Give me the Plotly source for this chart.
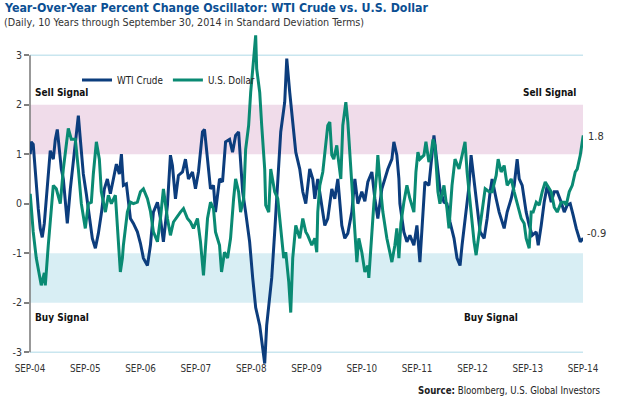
import plotly.graph_objects as go
import pandas as pd

# ---------------- data (decimal years, standard-deviation values) ----------------
wti_time = [
    2004.750, 2004.768, 2004.804, 2004.841, 2004.895, 2004.931, 2004.967, 2005.004, 2005.040, 2005.076,
    2005.112, 2005.167, 2005.203, 2005.239, 2005.275, 2005.312, 2005.348, 2005.384, 2005.420, 2005.475,
    2005.529, 2005.583, 2005.620, 2005.656, 2005.710, 2005.764, 2005.819, 2005.873, 2005.928, 2005.982,
    2006.036, 2006.091, 2006.145, 2006.199, 2006.254, 2006.308, 2006.362, 2006.399, 2006.435, 2006.489,
    2006.562, 2006.616, 2006.688, 2006.743, 2006.797, 2006.870, 2006.924, 2006.978, 2007.051, 2007.105,
    2007.159, 2007.232, 2007.286, 2007.322, 2007.377, 2007.431, 2007.504, 2007.558, 2007.612, 2007.685,
    2007.739, 2007.793, 2007.866, 2007.902, 2007.957, 2008.011, 2008.065, 2008.101, 2008.174, 2008.228,
    2008.283, 2008.355, 2008.409, 2008.464, 2008.518, 2008.554, 2008.591, 2008.645, 2008.717, 2008.772,
    2008.826, 2008.899, 2008.935, 2008.989, 2009.025, 2009.080, 2009.116, 2009.170, 2009.225, 2009.279,
    2009.351, 2009.388, 2009.442, 2009.496, 2009.551, 2009.623, 2009.678, 2009.732, 2009.768, 2009.804,
    2009.859, 2009.895, 2009.949, 2010.022, 2010.076, 2010.130, 2010.203, 2010.257, 2010.312, 2010.384,
    2010.438, 2010.493, 2010.565, 2010.620, 2010.674, 2010.746, 2010.801, 2010.855, 2010.928, 2010.982,
    2011.036, 2011.109, 2011.163, 2011.217, 2011.290, 2011.326, 2011.380, 2011.417, 2011.435, 2011.507,
    2011.562, 2011.616, 2011.688, 2011.743, 2011.797, 2011.833, 2011.888, 2011.960, 2012.014, 2012.051,
    2012.105, 2012.159, 2012.232, 2012.286, 2012.341, 2012.413, 2012.467, 2012.522, 2012.558, 2012.612,
    2012.685, 2012.721, 2012.775, 2012.830, 2012.884, 2012.957, 2013.011, 2013.065, 2013.101, 2013.174,
    2013.228, 2013.319, 2013.373, 2013.446, 2013.500, 2013.554, 2013.591, 2013.645, 2013.717, 2013.772,
    2013.826, 2013.899, 2013.935, 2013.989, 2014.043, 2014.098, 2014.170, 2014.225, 2014.279, 2014.351,
    2014.406, 2014.460, 2014.514, 2014.569, 2014.623, 2014.696, 2014.750,
]
wti_values = [
    1.0, 1.25, 1.2, 0.6, -0.1, -0.5, -0.68, -0.4, 0.1, 0.5,
    1.07, 0.9, 1.3, 1.5, 1.1, 0.7, 0.5, 0.1, -0.4, 0.3,
    0.9, 1.4, 1.78, 1.3, 0.6, 0.2, -0.3, -0.7, -0.9, -0.6,
    -0.2, 0.3, 0.5, 0.2, 0.5, 0.8, 0.6, 1.0, 0.37, 0.4,
    -0.3, -0.4, -0.57, -0.8, -1.1, -1.25, -0.84, -0.17, 0.03, -0.3,
    -0.77, -0.03, 0.98, 0.77, 0.1, 0.57, 0.64, 0.9, 0.5, 0.64,
    0.3, 0.64, 1.45, 1.5, 0.9, 0.3, 0.37, -0.17, 0.5, 0.44,
    1.25, 1.3, 1.04, 1.38, 1.45, 0.9, 0.24, -0.17, -0.77, -1.5,
    -2.1, -2.46, -2.8, -3.23, -2.46, -1.9, -1.5, -0.57, 0.57, 1.45,
    2.05, 2.93, 2.25, 1.58, 1.04, 0.7, 0.24, 0.0, 0.37, 0.7,
    0.5, 0.1, 0.5, -0.03, -0.44, -0.3, 0.3, 0.1, 0.5, -0.44,
    -0.7, -0.6, -0.17, 0.5, 0.0, 0.24, 0.05, 0.44, 0.64, 0.1,
    -0.3, 0.3, 0.5, 0.7, 0.9, 1.25, 0.98, 0.5, 0.0, -0.57,
    -0.77, -0.64, -0.84, -0.44, -1.18, -0.57, 0.44, 0.37, 0.98, 1.38,
    0.84, 0.3, 0.03, 0.0, -0.37, -0.7, -1.1, -1.25, -0.84, -0.3,
    0.37, 0.98, 0.5, 0.0, -0.57, -0.7, -0.3, 0.24, 0.5, 0.1,
    -0.17, -0.5, -0.17, 0.1, 0.37, 0.9, 0.5, 0.37, -0.17, -0.44,
    -0.64, -0.57, -0.84, -0.44, 0.03, 0.37, 0.03, 0.24, 0.24, 0.03,
    -0.17, -0.03, 0.0, -0.24, -0.5, -0.77, -0.7,
]

usd_time = [
    2004.750, 2004.804, 2004.859, 2004.931, 2004.949, 2005.004, 2005.022, 2005.076, 2005.130, 2005.167,
    2005.221, 2005.293, 2005.348, 2005.402, 2005.438, 2005.493, 2005.565, 2005.620, 2005.674, 2005.746,
    2005.801, 2005.855, 2005.891, 2005.946, 2006.000, 2006.036, 2006.109, 2006.163, 2006.217, 2006.290,
    2006.344, 2006.380, 2006.417, 2006.435, 2006.507, 2006.562, 2006.616, 2006.688, 2006.743, 2006.797,
    2006.870, 2006.924, 2006.978, 2007.051, 2007.105, 2007.159, 2007.232, 2007.286, 2007.341, 2007.413,
    2007.467, 2007.522, 2007.594, 2007.649, 2007.703, 2007.775, 2007.830, 2007.884, 2007.920, 2007.957,
    2008.011, 2008.065, 2008.101, 2008.174, 2008.210, 2008.264, 2008.319, 2008.373, 2008.428, 2008.464,
    2008.518, 2008.554, 2008.609, 2008.645, 2008.699, 2008.736, 2008.790, 2008.826, 2008.844, 2008.899,
    2008.935, 2008.989, 2009.007, 2009.062, 2009.098, 2009.170, 2009.225, 2009.279, 2009.333, 2009.370,
    2009.424, 2009.460, 2009.496, 2009.551, 2009.623, 2009.678, 2009.732, 2009.768, 2009.841, 2009.895,
    2009.931, 2009.949, 2009.986, 2010.040, 2010.094, 2010.130, 2010.167, 2010.203, 2010.239, 2010.293,
    2010.312, 2010.366, 2010.402, 2010.457, 2010.493, 2010.529, 2010.565, 2010.620, 2010.656, 2010.692,
    2010.746, 2010.801, 2010.855, 2010.873, 2010.928, 2010.964, 2011.018, 2011.036, 2011.091, 2011.127,
    2011.199, 2011.254, 2011.290, 2011.344, 2011.380, 2011.417, 2011.453, 2011.507, 2011.562, 2011.616,
    2011.688, 2011.725, 2011.761, 2011.797, 2011.870, 2011.906, 2011.960, 2011.996, 2012.033, 2012.069,
    2012.123, 2012.159, 2012.232, 2012.286, 2012.322, 2012.377, 2012.431, 2012.504, 2012.558, 2012.612,
    2012.649, 2012.703, 2012.739, 2012.775, 2012.812, 2012.866, 2012.920, 2012.975, 2013.047, 2013.101,
    2013.174, 2013.210, 2013.264, 2013.319, 2013.373, 2013.446, 2013.500, 2013.554, 2013.627, 2013.681,
    2013.717, 2013.772, 2013.808, 2013.844, 2013.899, 2013.953, 2014.007, 2014.062, 2014.098, 2014.170,
    2014.225, 2014.279, 2014.351, 2014.406, 2014.442, 2014.496, 2014.551, 2014.605, 2014.641, 2014.696,
    2014.732, 2014.750,
]
usd_values = [
    0.2, -0.57, -1.1, -1.5, -1.65, -1.4, -1.65, -0.84, 0.0, 0.37,
    0.3, 0.0, 0.7, 1.25, 1.52, 1.3, 1.3, 0.7, 0.0, -0.5,
    0.0, 0.03, 0.6, 1.25, 0.9, 0.24, -0.17, 0.17, 0.0, 0.17,
    -0.84, -1.38, -1.1, -0.84, -0.17, 0.03, 0.0, 0.03, 0.24, 0.3,
    0.1, -0.15, -0.57, -0.77, -0.3, 0.3, -0.3, -0.64, -0.37, -0.24,
    -0.17, -0.1, -0.3, -0.37, -0.5, -0.3, -0.77, -1.45, -0.84, -0.3,
    0.03, -0.1, -0.57, -0.84, -1.38, -0.98, -1.1, -0.7, 0.1, 0.5,
    0.24, -0.17, 0.1, 1.1, 1.58, 2.25, 2.93, 3.4, 2.73, 2.25,
    1.58, 0.7, -0.03, -0.17, 0.7, 0.24, 0.1, -0.44, -1.1, -0.98,
    -1.58, -2.2, -1.1, -0.44, -0.7, -0.3, -0.57, -0.64, -0.84, -0.7,
    -0.98, -0.17, 0.37, 0.64, 1.18, 1.58, 1.65, 0.98, 0.9, 1.18,
    0.98, 0.5, 1.58, 2.05, 1.65, 1.04, 0.5, -0.5, -1.18, -0.7,
    -0.98, -1.38, -1.25, -1.5, -0.57, 0.0, 0.64, 0.98, 0.24, -0.17,
    -0.7, -1.04, -1.18, -0.84, -0.5, -1.1, -0.4, 0.03, 0.37, 0.1,
    -0.17, 0.64, 1.04, 0.9, 0.98, 1.25, 0.84, 0.98, 1.3, 1.18,
    0.24, 0.0, 0.37, -0.1, -0.5, 0.37, 0.9, 0.7, 0.98, 1.25,
    0.64, 0.0, -0.5, -0.77, -1.04, -0.57, -0.17, 0.3, 0.24, 0.24,
    0.57, 0.9, 0.64, 0.77, 0.37, 0.5, 0.24, 0.0, -0.3, -0.4,
    -0.7, -0.9, -0.17, -0.17, 0.03, -0.03, 0.24, 0.44, 0.37, 0.24,
    -0.07, -0.17, 0.03, 0.03, -0.03, 0.24, 0.37, 0.64, 0.7, 0.98,
    1.25, 1.38,
]

tick_years = [2004, 2005, 2006, 2007, 2008, 2009, 2010, 2011, 2012, 2013, 2014]
tick_labels = ["SEP-04", "SEP-05", "SEP-06", "SEP-07", "SEP-08", "SEP-09",
               "SEP-10", "SEP-11", "SEP-12", "SEP-13", "SEP-14"]
y_ticks = [-3, -2, -1, 0, 1, 2, 3]
end_labels = {"U.S. Dollar": "1.8", "WTI Crude": "-0.9"}


def to_date(t):
    y = int(t)
    start = pd.Timestamp(year=y, month=1, day=1)
    days = (pd.Timestamp(year=y + 1, month=1, day=1) - start).days
    return start + pd.Timedelta(days=(t - y) * days)


wti_dates = [to_date(t) for t in wti_time]
usd_dates = [to_date(t) for t in usd_time]
tick_dates = [pd.Timestamp(year=y, month=9, day=30) for y in tick_years]
x_range = [tick_dates[0], tick_dates[-1]]
y_range = [-3.3, 3.55]

BLUE = "#0c3d7d"
TEAL = "#0a8a73"
FONT = "Liberation Sans Narrow, DejaVu Sans Condensed, Roboto, sans-serif"

fig = go.Figure()
fig.add_trace(go.Scatter(x=wti_dates, y=wti_values, mode="lines", name="WTI Crude",
                         line=dict(color=BLUE, width=3)))
fig.add_trace(go.Scatter(x=usd_dates, y=usd_values, mode="lines", name="U.S. Dollar",
                         line=dict(color=TEAL, width=3)))


def frac(v):
    return (v - y_range[0]) / (y_range[1] - y_range[0])


shapes = [
    dict(type="rect", xref="paper", yref="y", x0=0, x1=1, y0=1, y1=2,
         fillcolor="#f0dcea", line=dict(width=0), layer="below"),
    dict(type="rect", xref="paper", yref="y", x0=0, x1=1, y0=-2, y1=-1,
         fillcolor="#d8eef4", line=dict(width=0), layer="below"),
    dict(type="line", xref="paper", yref="y", x0=0, x1=1, y0=3, y1=3,
         line=dict(color="#c9e6ef", width=1.5), layer="below"),
    dict(type="line", xref="paper", yref="y", x0=0, x1=1, y0=-3, y1=-3,
         line=dict(color="#c9e6ef", width=1.5), layer="below"),
    dict(type="line", xref="paper", yref="y", x0=0, x1=0, y0=-3, y1=3,
         line=dict(color="#7f7f7f", width=1.6), layer="below"),
]

SIG = dict(size=10, color="#111")
annotations = [
    dict(text="<b>Sell Signal</b>", xref="paper", yref="y", x=0.006, y=2.24,
         xanchor="left", yanchor="middle", showarrow=False, font=SIG),
    dict(text="<b>Sell Signal</b>", xref="paper", yref="y", x=0.991, y=2.24,
         xanchor="right", yanchor="middle", showarrow=False, font=SIG),
    dict(text="<b>Buy Signal</b>", xref="paper", yref="y", x=0.006, y=-2.3,
         xanchor="left", yanchor="middle", showarrow=False, font=SIG),
    dict(text="<b>Buy Signal</b>", xref="paper", yref="y", x=0.834, y=-2.3,
         xanchor="center", yanchor="middle", showarrow=False, font=SIG),
    dict(text=end_labels["U.S. Dollar"], xref="paper", yref="y", x=1.006, y=usd_values[-1] - 0.03,
         xanchor="left", yanchor="middle", showarrow=False, font=dict(size=11, color="#333")),
    dict(text=end_labels["WTI Crude"], xref="paper", yref="y", x=1.004, y=wti_values[-1] + 0.1,
         xanchor="left", yanchor="middle", showarrow=False, font=dict(size=11, color="#333")),
    dict(text="<b>Year-Over-Year Percent Change Oscillator: WTI Crude vs. U.S. Dollar</b>",
         xref="paper", yref="paper", x=-0.05, y=1.0 + 20 / 339, xanchor="left", yanchor="middle",
         showarrow=False, font=dict(size=12.3, color="#0b4f93")),
    dict(text="(Daily, 10 Years through September 30, 2014 in Standard Deviation Terms)",
         xref="paper", yref="paper", x=-0.05, y=1.0 + 5 / 339, xanchor="left", yanchor="middle",
         showarrow=False, font=dict(size=10.7, color="#333")),
    dict(text="<b>Source:</b> Bloomberg, U.S. Global Investors",
         xref="paper", yref="paper", x=1.036, y=-23 / 339, xanchor="right", yanchor="middle",
         showarrow=False, font=dict(size=9.6, color="#222")),
]

fig.update_layout(
    width=621, height=399,
    margin=dict(l=30, r=38, t=28, b=32),
    paper_bgcolor="white", plot_bgcolor="white",
    font=dict(family=FONT, size=10, color="#333"),
    showlegend=True,
    legend=dict(orientation="h", x=0.085, y=1 - 52 / 339, xanchor="left", yanchor="middle",
                bgcolor="rgba(0,0,0,0)", font=dict(size=9.8, color="#222"),
                itemwidth=30, tracegroupgap=0),
    shapes=shapes,
    annotations=annotations,
    xaxis=dict(type="date", range=x_range, tickvals=tick_dates, ticktext=tick_labels,
               showgrid=False, zeroline=False, showline=False,
               anchor="free", position=frac(-3),
               ticks="outside", ticklen=7, tickcolor="rgba(0,0,0,0)",
               tickfont=dict(size=9.8, color="#333")),
    xaxis2=dict(type="date", range=x_range, overlaying="x", tickvals=tick_dates,
                showticklabels=False, showgrid=False, zeroline=False,
                showline=True, linecolor="#000", linewidth=1,
                anchor="free", position=frac(0),
                ticks="outside", ticklen=5, tickcolor="#000", tickwidth=1,
                layer="below traces"),
    yaxis=dict(range=y_range, tickvals=y_ticks, ticktext=[str(v) for v in y_ticks],
               showgrid=False, zeroline=False, showline=False,
               ticks="outside", ticklen=5, tickcolor="#7f7f7f", tickwidth=1.5,
               tickfont=dict(size=10.5, color="#333")),
)

fig.write_html("out.html", config={"displayModeBar": False},
               post_script="document.body.style.margin='0';")
